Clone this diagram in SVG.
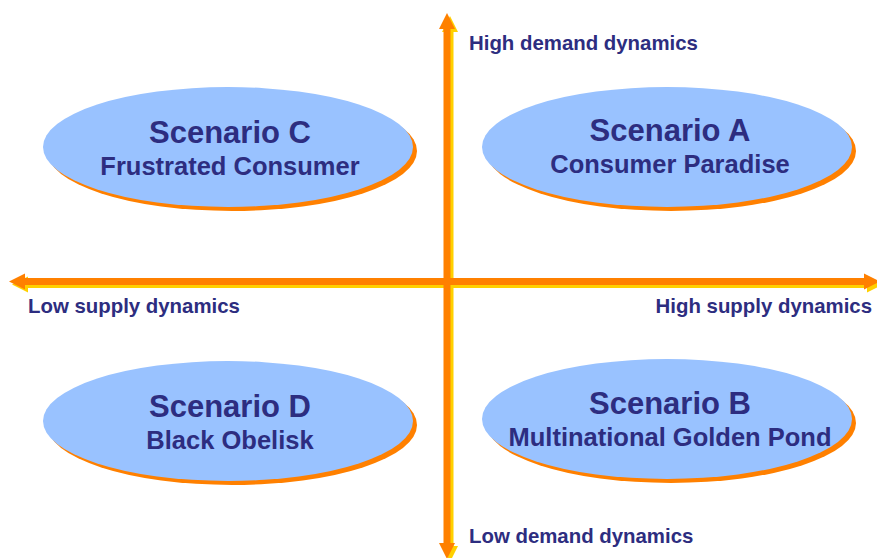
<svg xmlns="http://www.w3.org/2000/svg" width="877" height="558" viewBox="0 0 877 558">
<style>
.sh{fill:#FF8000}
.el{fill:#99C2FF}
.t1{font-family:"Liberation Sans",Arial,sans-serif;font-weight:bold;font-size:31px;fill:#2D2D80;text-anchor:middle}
.t2{font-family:"Liberation Sans",Arial,sans-serif;font-weight:bold;font-size:25.5px;fill:#2D2D80;text-anchor:middle}
.ax{font-family:"Liberation Sans",Arial,sans-serif;font-weight:bold;font-size:20.4px;fill:#2D2D80}
.y{stroke:#FFD000;stroke-width:7;fill:none}
.o{stroke:#FF8000;stroke-width:7;fill:none}
</style>
<defs>
<marker id="ay" markerUnits="userSpaceOnUse" markerWidth="18" markerHeight="18" refX="2" refY="9" orient="auto-start-reverse" viewBox="0 0 18 18"><path d="M0,1 L16,9 L0,17 Z" fill="#FFD000"/></marker>
<marker id="ao" markerUnits="userSpaceOnUse" markerWidth="18" markerHeight="18" refX="2" refY="9" orient="auto-start-reverse" viewBox="0 0 18 18"><path d="M0,1 L16,9 L0,17 Z" fill="#FF8000"/></marker>
</defs>
<g id="connectors">
<g transform="translate(3,3)">
<path class="y" d="M447,27 L447,545" marker-start="url(#ay)" marker-end="url(#ay)"/>
<path class="y" d="M23,281.5 L866,281.5" marker-start="url(#ay)" marker-end="url(#ay)"/>
</g>
<path class="o" d="M447,27 L447,545" marker-start="url(#ao)" marker-end="url(#ao)"/>
<path class="o" d="M23,281.5 L866,281.5" marker-start="url(#ao)" marker-end="url(#ao)"/>
</g>
<g id="scenarioC">
<ellipse class="sh" cx="232" cy="151" rx="185" ry="60"/>
<ellipse class="el" cx="228" cy="147" rx="185" ry="60"/>
<text class="t1" x="230" y="143">Scenario C</text>
<text class="t2" x="230" y="175">Frustrated Consumer</text>
</g>
<g id="scenarioA">
<ellipse class="sh" cx="671" cy="151" rx="185" ry="60"/>
<ellipse class="el" cx="667" cy="147" rx="185" ry="60"/>
<text class="t1" x="670" y="141">Scenario A</text>
<text class="t2" x="670" y="173">Consumer Paradise</text>
</g>
<g id="scenarioD">
<ellipse class="sh" cx="232" cy="425" rx="185" ry="60"/>
<ellipse class="el" cx="228" cy="421" rx="185" ry="60"/>
<text class="t1" x="230" y="417">Scenario D</text>
<text class="t2" x="230" y="449">Black Obelisk</text>
</g>
<g id="scenarioB">
<ellipse class="sh" cx="671" cy="423" rx="185" ry="60"/>
<ellipse class="el" cx="667" cy="419" rx="185" ry="60"/>
<text class="t1" x="670" y="414">Scenario B</text>
<text class="t2" x="670" y="446">Multinational Golden Pond</text>
</g>
<g id="labels">
<text class="ax" x="469" y="50">High demand dynamics</text>
<text class="ax" x="469" y="543">Low demand dynamics</text>
<text class="ax" x="28" y="313">Low supply dynamics</text>
<text class="ax" x="872" y="313" text-anchor="end">High supply dynamics</text>
</g>
</svg>
